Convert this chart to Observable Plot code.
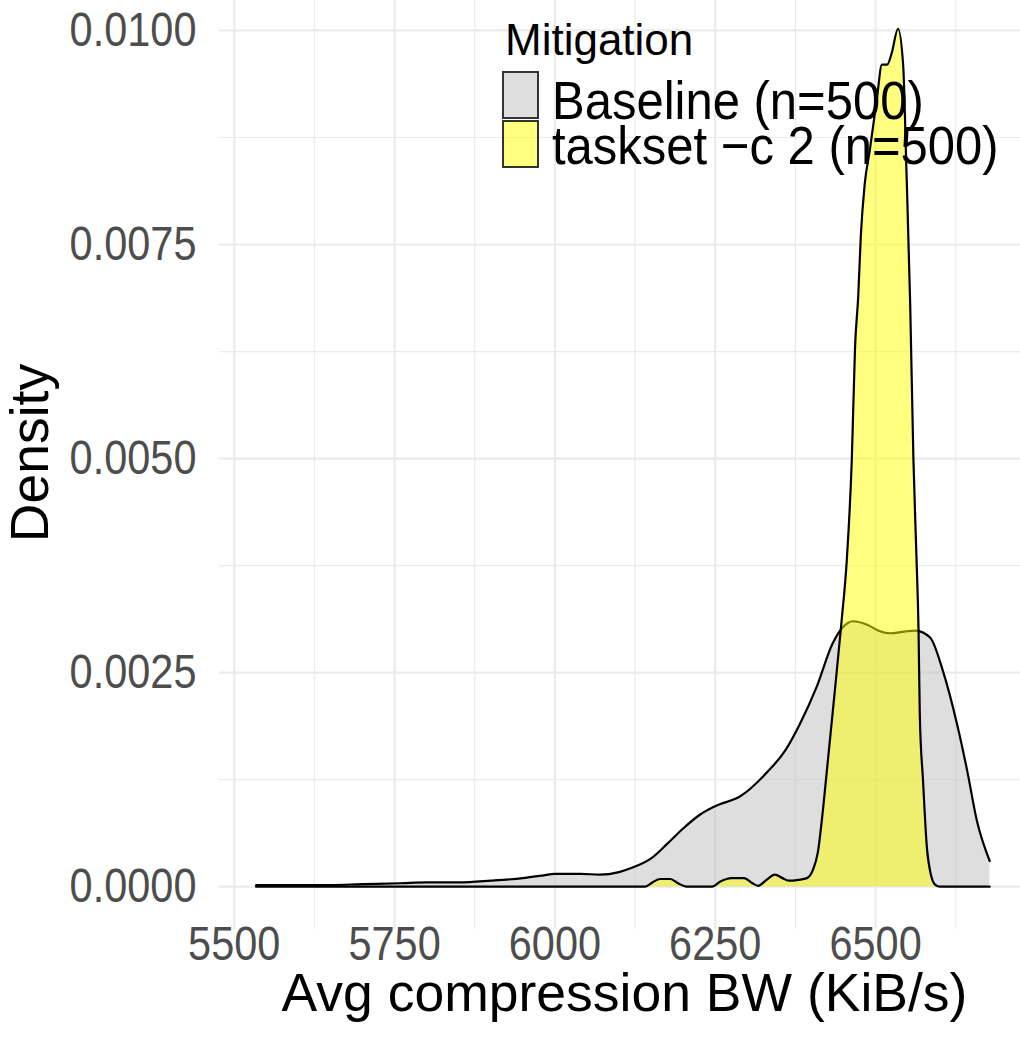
<!DOCTYPE html>
<html><head><meta charset="utf-8">
<script src="https://cdn.jsdelivr.net/npm/d3@7"></script>
<script src="https://cdn.jsdelivr.net/npm/@observablehq/plot@0.6"></script>
<style>body{margin:0;background:#fff} svg{display:block}</style>
</head><body><div id="chart"></div>
<script>
const groups = ["Baseline (n=500)", "taskset \u2212c 2 (n=500)"];
const legendTitle = "Mitigation";
const fills = ["#BEBEBE", "#FFFF00"];

const baselineX = [5534, 5600, 5650, 5700, 5760, 5800, 5850, 5900, 5950, 5980, 6000, 6040, 6070, 6100, 6120, 6150, 6175, 6200, 6226, 6250, 6290, 6330, 6360, 6382, 6408, 6433, 6449, 6465, 6487, 6505, 6523, 6545, 6562, 6585, 6605, 6627, 6643, 6658, 6678];
const baselineY = [0.00002, 0.00002, 0.00002, 0.00003, 0.00004, 0.00005, 0.00005, 0.00007, 0.0001, 0.00013, 0.00015, 0.00015, 0.00014, 0.00017, 0.00022, 0.00033, 0.0005, 0.00068, 0.00084, 0.00094, 0.00106, 0.00133, 0.0016, 0.0019, 0.00233, 0.00284, 0.00303, 0.0031, 0.00306, 0.00299, 0.00296, 0.00298, 0.00299, 0.00291, 0.00252, 0.0019, 0.00135, 0.00077, 0.0003];

const tasksetX = [5534, 6140, 6152, 6164, 6180, 6192, 6205, 6245, 6258, 6275, 6295, 6308, 6317, 6330, 6343, 6355, 6364, 6380, 6393, 6402, 6410, 6418, 6426, 6434, 6447, 6455, 6463, 6468, 6473, 6477, 6483, 6491, 6502, 6510, 6518, 6525, 6535, 6543, 6548, 6554, 6559, 6564, 6567, 6569, 6574, 6580, 6586, 6592, 6600, 6678];
const tasksetY = [0, 0, 0.00005, 0.00009, 0.00009, 0.00004, 0, 0, 0.00006, 0.0001, 0.0001, 0.00004, 0.00001, 0.00008, 0.00014, 0.0001, 0.00007, 0.00008, 0.0001, 0.00019, 0.0004, 0.0009, 0.0015, 0.0021, 0.0031, 0.0038, 0.005, 0.0063, 0.0069, 0.0076, 0.0082, 0.0086, 0.0092, 0.0096, 0.0096, 0.00973, 0.01002, 0.0096, 0.0084, 0.0068, 0.005, 0.0038, 0.003, 0.002, 0.00124, 0.00046, 0.00015, 0.00003, 0, 0];

const xTicks = [5500, 5750, 6000, 6250, 6500];
const xMinor = [5625, 5875, 6125, 6375, 6625];
const yTicks = [0, 0.0025, 0.005, 0.0075, 0.01];
const yMinor = [0.00125, 0.00375, 0.00625, 0.00875];
const xLabel = "Avg compression BW (KiB/s)";
const yLabel = "Density";

const baseline = baselineX.map((x, i) => ({x, y: baselineY[i], g: groups[0]}));
const taskset = tasksetX.map((x, i) => ({x, y: tasksetY[i], g: groups[1]}));

const FONT = "'Liberation Sans', Arial, Helvetica, sans-serif";

const plot = Plot.plot({
  width: 1020, height: 1041,
  marginLeft: 219, marginRight: 0, marginTop: 0, marginBottom: 112,
  style: {fontFamily: FONT, background: "#fff", overflow: "visible"},
  x: {domain: [5477, 6726], axis: null},
  y: {domain: [-0.0005, 0.01035], axis: null},
  marks: [
    Plot.ruleX(xMinor, {x: d => d, stroke: "#ebebeb", strokeWidth: 1.2}),
    Plot.ruleX(xTicks, {x: d => d, stroke: "#ebebeb", strokeWidth: 2.2}),
    Plot.ruleY(yMinor, {y: d => d, stroke: "#ebebeb", strokeWidth: 1.2}),
    Plot.ruleY(yTicks, {y: d => d, stroke: "#ebebeb", strokeWidth: 2.2}),
    Plot.areaY(baseline, {x: "x", y: "y", fill: fills[0], fillOpacity: 0.5, curve: "monotone-x"}),
    Plot.lineY(baseline, {x: "x", y: "y", stroke: "#000", strokeWidth: 2.2, curve: "monotone-x"}),
    Plot.areaY(taskset, {x: "x", y: "y", fill: fills[1], fillOpacity: 0.5, curve: "monotone-x"}),
    Plot.lineY(taskset, {x: "x", y: "y", stroke: "#000", strokeWidth: 2.2, curve: "monotone-x"}),
    Plot.text(xTicks, {x: d => d, frameAnchor: "bottom", dy: 28, textAnchor: "middle", text: d => String(d), fontSize: 41.5, fill: "#4d4d4d"}),
    Plot.text(yTicks, {y: d => d, frameAnchor: "left", dx: -23, textAnchor: "end", text: d => d.toFixed(4), fontSize: 41.5, fill: "#4d4d4d"}),
    Plot.text([xLabel], {frameAnchor: "bottom", dx: 4.5, dy: 81, textAnchor: "middle", text: d => d, fontSize: 53.5, fill: "#000"}),
    Plot.text([yLabel], {frameAnchor: "left", dx: -189, dy: -12, rotate: -90, textAnchor: "middle", text: d => d, fontSize: 53.5, fill: "#000"})
  ]
});

document.getElementById("chart").appendChild(plot);

// Legend (inside panel, top)
const svg = d3.select(plot);
const lg = svg.append("g").attr("font-family", FONT).attr("text-anchor", "start");
lg.append("text").attr("x", 505).attr("y", 55).attr("font-size", 44).attr("fill", "#000").text(legendTitle);
const keyY = [72, 121];
const textY = [117, 162];
groups.forEach((g, i) => {
  lg.append("rect").attr("x", 503).attr("y", keyY[i]).attr("width", 35).attr("height", 46)
    .attr("fill", fills[i]).attr("fill-opacity", 0.5).attr("stroke", "#333").attr("stroke-width", 2);
  lg.append("text").attr("class", "lgtext").attr("x", 552).attr("y", textY[i]).attr("font-size", 49).attr("fill", "#000").text(g);
});

// vertical stretch for horizontal text (reference glyphs are taller than Arial)
function stretch(nodes, s) {
  nodes.forEach(node => {
    const b = node.getBBox();
    const cy = b.y + b.height / 2;
    const old = node.getAttribute("transform") || "";
    node.setAttribute("transform", `${old} translate(0 ${cy}) scale(1 ${s}) translate(0 ${-cy})`);
  });
}
stretch(Array.from(plot.querySelectorAll('g[font-size="41.5"] text')), 1.15);
stretch(Array.from(plot.querySelectorAll('text.lgtext')), 1.1);
</script>
</body></html>
